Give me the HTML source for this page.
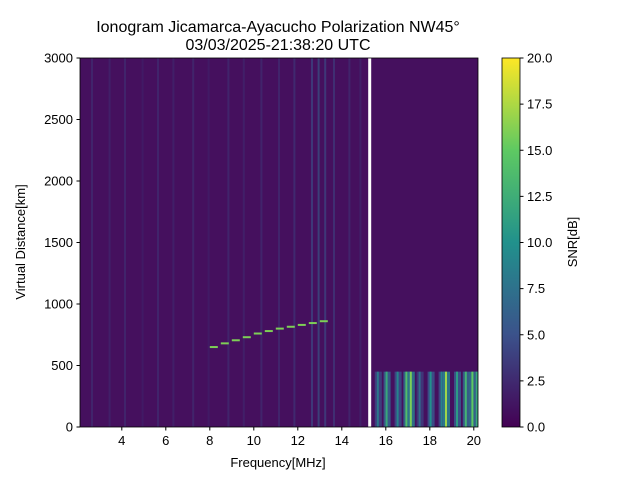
<!DOCTYPE html>
<html><head><meta charset="utf-8"><style>
body{margin:0;background:#fff;font-family:"Liberation Sans",sans-serif}
svg text{font-family:"Liberation Sans","DejaVu Sans",sans-serif}
</style></head><body>
<svg id="c" width="640" height="480" xmlns="http://www.w3.org/2000/svg">
<defs><linearGradient id="vir" x1="0" y1="1" x2="0" y2="0">
<stop offset="0" stop-color="#440154"/><stop offset="0.25" stop-color="#3b528b"/><stop offset="0.5" stop-color="#21918c"/><stop offset="0.75" stop-color="#5ec962"/><stop offset="1" stop-color="#fde725"/></linearGradient>
<clipPath id="pc"><rect x="80" y="58" width="398" height="369"/></clipPath></defs>
<text x="278" y="32" text-anchor="middle" font-size="16">Ionogram Jicamarca-Ayacucho Polarization NW45°</text>
<text x="278" y="50" text-anchor="middle" font-size="16">03/03/2025-21:38:20 UTC</text>
<g id="plot" clip-path="url(#pc)"></g>
<g id="axes"></g>
<text x="278" y="467" text-anchor="middle" font-size="13">Frequency[MHz]</text>
<text transform="translate(25,242) rotate(-90)" text-anchor="middle" font-size="13">Virtual Distance[km]</text>
<rect x="502" y="58" width="18" height="369" fill="url(#vir)" stroke="#000" stroke-width="0.8"/>
<g id="cbar"></g>
<text transform="translate(577,242) rotate(-90)" text-anchor="middle" font-size="13">SNR[dB]</text>
</svg>
<script>
const xTicks=[4,6,8,10,12,14,16,18,20];
const yTicks=[0,500,1000,1500,2000,2500,3000];
const cTicks=[0,2.5,5,7.5,10,12.5,15,17.5,20];
const streakFreqs=[2.6,3.4,4.1,4.9,5.6,6.3,7.2,7.9,8.8,9.5,10.3,11.1,11.8,12.6,12.9,13.2,13.6,14.3,14.8];
const streakSnr=[3,2.5,3,2,3,2.5,3,2,3,2.5,3,3,3.5,5,6,5,4,3,2.5];
const echoFreq=[8.0,8.5,9.0,9.5,10.0,10.5,11.0,11.5,12.0,12.5,13.0];
const echoDist=[650,680,705,730,760,780,800,815,830,845,860];
const bandFreqs=[15.5,15.9,16.4,16.8,17.0,17.4,17.9,18.4,18.6,19.1,19.5,19.8,20.0];
const bandSnr=[8,12,9,14,16,7,10,9,17,11,13,15,12];
const x=f=>80+(f-2.1)*22, y=d=>427-d*369/3000, cy=v=>427-v*369/20;
const NS="http://www.w3.org/2000/svg";
function mk(t,a,p){const e=document.createElementNS(NS,t);for(const k in a)e.setAttribute(k,a[k]);p.appendChild(e);return e;}
function vc(v){const s=[[0,[68,1,84]],[5,[59,82,139]],[10,[33,145,140]],[15,[94,201,98]],[20,[253,231,37]]];for(let i=0;i<4;i++){if(v<=s[i+1][0]){const t=(v-s[i][0])/5;return 'rgb('+s[i][1].map((c,j)=>Math.round(c+(s[i+1][1][j]-c)*t)).join(',')+')';}}return 'rgb(253,231,37)';}
const P=document.getElementById('plot'),A=document.getElementById('axes'),C=document.getElementById('cbar');
let r=mk('rect',{x:80,y:58,width:398,height:369,fill:'#45105e'},P);


streakFreqs.forEach((f,i)=>{const e=mk('rect',{x:x(f),y:58,width:2,height:369,fill:vc(streakSnr[i]),opacity:0.6},P);

});
bandFreqs.forEach((f,i)=>{const e=mk('rect',{x:x(f),y:y(450),width:7,height:y(0)-y(450),fill:vc(bandSnr[i]/2),opacity:0.9},P);


const e2=mk('rect',{x:x(f)+2,y:y(450),width:2,height:y(0)-y(450),fill:vc(bandSnr[i])},P);

});
echoFreq.forEach((f,i)=>{const e=mk('rect',{x:x(f),y:y(echoDist[i])-1,width:8,height:2,fill:vc(16)},P);

});
const g=mk('rect',{x:x(15.2),y:58,width:3,height:369,fill:'#fff'},P);


const fr=mk('rect',{x:80,y:58,width:398,height:369,fill:'none',stroke:'#000','stroke-width':0.8},A);


xTicks.forEach(t=>{mk('line',{x1:x(t),x2:x(t),y1:427,y2:430.5,stroke:'#000'},A);
const tx=mk('text',{x:x(t),y:445,'text-anchor':'middle','font-size':13},A);tx.textContent=t;

});
yTicks.forEach(t=>{mk('line',{x1:76.5,x2:80,y1:y(t),y2:y(t),stroke:'#000'},A);
const tx=mk('text',{x:73,y:y(t)+4.5,'text-anchor':'end','font-size':13},A);tx.textContent=t;

});
cTicks.forEach(t=>{mk('line',{x1:520,x2:523.5,y1:cy(t),y2:cy(t),stroke:'#000'},C);
const tx=mk('text',{x:527,y:cy(t)+4.5,'font-size':13},C);tx.textContent=t.toFixed(1);

});
</script>
</body></html>
